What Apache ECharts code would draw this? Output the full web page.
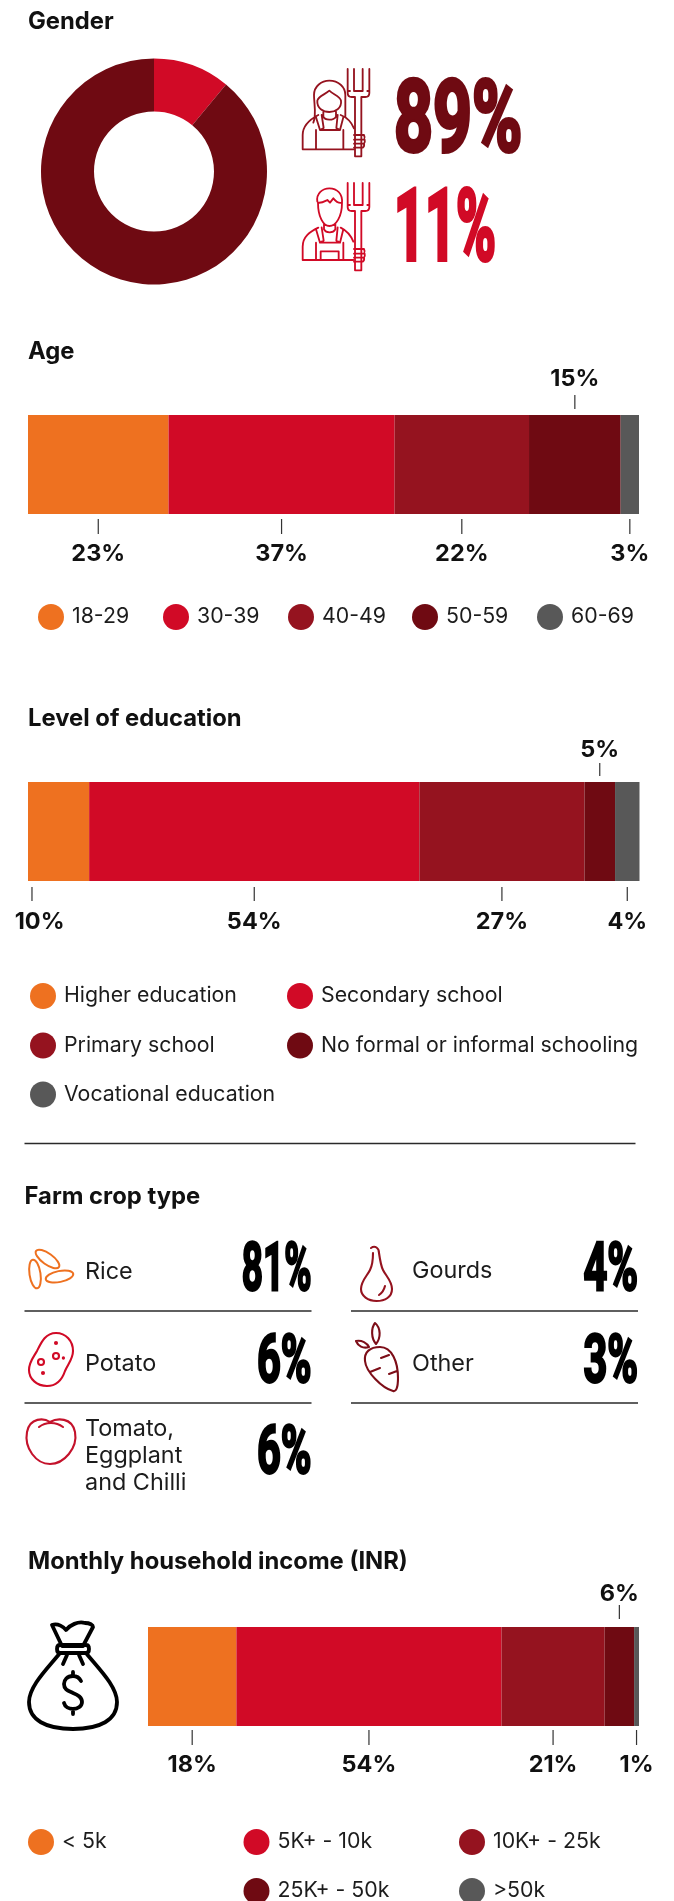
<!DOCTYPE html>
<html>
<head>
<meta charset="utf-8">
<title>Farmer profile</title>
<style>
html,body{margin:0;padding:0;background:#fff}
#chart{width:674px;height:1901px}
</style>
<script src="https://cdn.jsdelivr.net/npm/echarts@6/dist/echarts.min.js"></script>
</head>
<body>
<div id="chart"></div>
<script>
// Survey shares, in percent
const genderNames = ['Male', 'Female'];
const genderValues = [11, 89];

const ageNames = ['18-29', '30-39', '40-49', '50-59', '60-69'];
const ageValues = [23, 37, 22, 15, 3];

const eduNames = ['Higher education', 'Secondary school', 'Primary school', 'No formal or informal schooling', 'Vocational education'];
const eduValues = [10, 54, 27, 5, 4];

const incomeNames = ['< 5k', '5K+ - 10k', '10K+ - 25k', '25K+ - 50k', '>50k'];
const incomeValues = [18, 54, 21, 6, 1];

const cropNames = ['Rice', 'Potato', 'Tomato,\nEggplant\nand Chilli', 'Gourds', 'Other'];
const cropValues = [81, 6, 6, 4, 3];

const ORANGE = '#EE7120', RED = '#D10A26', MAROON = '#95131F', DARK = '#6F0A12', GREY = '#585858';
const PALETTE = [ORANGE, RED, MAROON, DARK, GREY];
const INK = '#111111';
const FONT = 'Inter, "Noto Sans", sans-serif';
const BIG_FONT = '"Liberation Sans Narrow", Roboto, sans-serif';

const sections = [
  {
    names: ageNames, values: ageValues, stack: 'age',
    left: 28, top: 415, width: 611, height: 99,
    below: [5, 20, 40], above: [-20, -6, -36],
    legend: [[38, 617], [163, 617], [288, 617], [412, 617], [537, 617]]
  },
  {
    names: eduNames, values: eduValues, stack: 'edu',
    left: 28, top: 782, width: 611.5, height: 99,
    below: [6, 20, 41], above: [-19, -6, -32],
    // the first callout sits near the left edge of the bar, not at its middle
    nudge: {0: {tick: -26.6, text: -19}},
    legend: [[30, 996], [287, 996], [30, 1045.5], [287, 1045.5], [30, 1094.5]]
  },
  {
    names: incomeNames, values: incomeValues, stack: 'income',
    left: 148, top: 1627, width: 491, height: 99,
    below: [4, 19, 39], above: [-22, -8, -33],
    legend: [[28, 1842], [243.5, 1842], [459, 1842], [243.5, 1891], [459, 1891]]
  }
];

const grid = [], xAxis = [], yAxis = [], series = [], legend = [];

sections.forEach(function (sec, gi) {
  grid.push({left: sec.left, top: sec.top, width: sec.width, height: sec.height, containLabel: false});
  xAxis.push({type: 'value', gridIndex: gi, min: 0, max: 100, show: false});
  yAxis.push({type: 'category', gridIndex: gi, data: [sec.stack], show: false});

  const mids = [];
  let running = 0;
  sec.names.forEach(function (name, i) {
    series.push({
      type: 'bar', name: name, stack: sec.stack, xAxisIndex: gi, yAxisIndex: gi,
      data: [sec.values[i]], barWidth: '100%', silent: true,
      itemStyle: {color: PALETTE[i]}
    });
    mids.push([running + sec.values[i] / 2, 0]);
    running += sec.values[i];
    legend.push({
      data: [name], left: sec.legend[i][0], top: sec.legend[i][1] - 13, padding: 0,
      itemWidth: 26, itemHeight: 26, icon: 'circle', selectedMode: false,
      textStyle: {fontFamily: FONT, fontSize: 21.3, color: '#1c1c1c', padding: [0, 0, 0, 3]}
    });
  });

  // Callout ticks and percentage labels; the fourth segment is labelled above the bar
  series.push({
    type: 'custom', name: sec.stack + '-callouts', xAxisIndex: gi, yAxisIndex: gi,
    data: mids, encode: {x: 0, y: 1}, clip: false, silent: true, z: 5,
    renderItem: function (params, api) {
      const i = params.dataIndex;
      const pt = api.coord([api.value(0), 0]);
      const half = api.size([0, 1])[1] / 2;
      const up = i === 3;
      const edge = pt[1] + (up ? -half : half);
      const off = up ? sec.above : sec.below;
      const nudge = (sec.nudge && sec.nudge[i]) || {tick: 0, text: 0};
      return {
        type: 'group',
        children: [
          {
            type: 'line',
            shape: {x1: pt[0] + nudge.tick, y1: edge + off[0], x2: pt[0] + nudge.tick, y2: edge + off[1]},
            style: {stroke: '#333333', lineWidth: 1.2}
          },
          {
            type: 'text', x: pt[0] + nudge.text, y: edge + off[2],
            style: {
              text: sec.values[i] + '%', textAlign: 'center', textVerticalAlign: 'middle',
              fontFamily: FONT, fontWeight: 700, fontSize: 23.5, fill: INK
            }
          }
        ]
      };
    }
  });
});

// Gender donut, 11% starts at twelve o'clock
series.push({
  type: 'pie', name: 'Gender', center: [154, 171.5], radius: [60, 113], startAngle: 90,
  silent: true, label: {show: false}, labelLine: {show: false},
  data: genderNames.map(function (n, i) {
    return {name: n, value: genderValues[i], itemStyle: {color: i === 0 ? RED : DARK}};
  })
});

function heading(text, x, y) {
  return {
    type: 'text', x: x, y: y, silent: true,
    style: {text: text, fontFamily: FONT, fontWeight: 700, fontSize: 23.8, fill: INK, textVerticalAlign: 'middle'}
  };
}
function body(text, x, y) {
  return {
    type: 'text', x: x, y: y, silent: true,
    style: {text: text, fontFamily: FONT, fontWeight: 400, fontSize: 23.4, lineHeight: 27, fill: '#1c1c1c', textVerticalAlign: 'middle'}
  };
}
function bigNumber(text, x, y, size, squeeze, color, align) {
  return {
    type: 'text', x: x, y: y, scaleX: squeeze, silent: true,
    style: {
      text: text, fontFamily: BIG_FONT, fontWeight: 700, fontSize: size, fill: color,
      stroke: color, lineWidth: size / 24,
      textAlign: align, textVerticalAlign: 'middle'
    }
  };
}
function rule(x1, x2, y) {
  return {type: 'line', silent: true, shape: {x1: x1, y1: y, x2: x2, y2: y}, style: {stroke: '#2a2a2a', lineWidth: 1.5}};
}
function icon(pathData, stroke, lineWidth, x, y, scale) {
  return {
    type: 'path', silent: true, x: x || 0, y: y || 0, scaleX: scale || 1, scaleY: scale || 1,
    shape: {pathData: pathData},
    style: {fill: 'none', stroke: stroke, lineWidth: lineWidth, lineCap: 'round', lineJoin: 'round'}
  };
}

// Line icons
const FORK_TOP = 'M173 0 V72 Q173 84 185 84 H195 V262 H214 V84 H226 Q238 84 238 72 V0 M192 0 V66 H218 V0 M173 66 H180 M232 66 H238';
const FORK_HAND = 'M192 198 H222 Q226 206 222 212 H192 M192 212 H224 Q226 220 222 224 H192 M192 224 H222 Q224 232 218 236 H192';
const WOMAN =
  'M70 188 C80 165 72 130 72 105 C72 78 95 62 118 62 C145 62 166 80 166 105 V170 ' +
  'M82 122 C85 108 105 104 118 92 C130 104 150 108 153 122 C156 145 135 156 118 156 C100 156 80 145 82 122 Z ' +
  'M100 155 V170 C105 182 130 182 138 170 V155 ' +
  'M38 268 V225 C38 195 60 178 85 165 M152 165 C170 172 185 188 192 205 M38 268 H192 ' +
  'M78 172 L90 210 L101 204 L95 165 M160 172 L150 210 L139 204 L143 165 M78 210 V268 M160 210 V268 M90 210 H150';
const MAN =
  'M82 425 C78 400 98 385 118 385 C142 385 158 402 156 428 M84 428 C95 430 104 424 112 420 L120 428 L130 415 C138 425 148 430 156 428 ' +
  'M84 428 C84 470 100 498 118 498 C138 498 156 470 156 428 ' +
  'M102 490 V508 C108 520 130 520 136 508 V490 ' +
  'M38 600 V560 C38 530 60 515 85 503 M152 503 C170 512 182 525 190 545 M38 600 H190 ' +
  'M78 508 L90 548 L101 542 L95 502 M160 508 L150 548 L139 542 L143 502 M78 548 V600 M160 548 V600 M90 548 H150 ' +
  'M92 600 V574 H146 V600';
const GOURD =
  'M371 1248 C375 1245 379 1248 379 1253 C380 1260 381 1266 383 1270 C386 1276 392 1281 392 1289 C392 1297 385 1301 376.5 1301 ' +
  'C368 1301 361 1296 361 1289 C361 1281 367 1276 370 1270 C372 1266 373 1260 373 1253 M379 1295 C382 1293 384 1290 385 1286';
const POTATO =
  'M56 1333 C66 1333 73 1341 73 1351 C73 1359 68 1364 65 1371 C62 1380 56 1386 47 1386 C37 1386 29 1379 29 1370 ' +
  'C29 1362 33 1358 37 1351 C41 1343 45 1333 56 1333 Z ' +
  'M57 1343 a1 1 0 1 0 -2 0 a1 1 0 1 0 2 0 M59 1356 a3 3 0 1 0 -6 0 a3 3 0 1 0 6 0 M64 1358 a.6 .6 0 1 0 -1.2 0 a.6 .6 0 1 0 1.2 0 ' +
  'M44 1362 a3 3 0 1 0 -6 0 a3 3 0 1 0 6 0 M44 1373 a1 1 0 1 0 -2 0 a1 1 0 1 0 2 0';
const TOMATO =
  'M50 1422 C44 1418 30 1417 27 1432 C24 1448 36 1464 50 1464 C64 1464 78 1448 75 1432 C72 1417 57 1418 50 1422 Z ' +
  'M39 1427 C44 1423 48 1423 51 1423 C55 1423 59 1424 63 1427';
const CARROT =
  'M375 1323 C381 1328 381 1338 376 1344 C371 1338 371 1328 375 1323 Z M356 1341 C362 1340 367 1343 369 1347 C363 1349 358 1346 356 1341 Z ' +
  'M380 1347 C370 1347 364 1352 365 1361 C366 1372 382 1388 393 1391 C396 1392 398 1388 398 1378 C398 1362 392 1347 380 1347 Z ' +
  'M370 1372 L380 1368 M389 1374 L397 1371 M381 1358 L389 1355';
const BAG =
  'M52 1625 C58 1623 64 1627 66 1630 C70 1625 78 1621 85 1623 C90 1623 93 1625 93 1627 L83 1646 H62 Z ' +
  'M60 1645 H86 Q89 1645 89 1649 Q89 1653 86 1653 H60 Q57 1653 57 1649 Q57 1645 60 1645 Z ' +
  'M60 1653 C48 1668 29 1686 29 1702 C29 1720 46 1729 73 1729 C100 1729 117 1720 117 1702 C117 1686 98 1668 86 1653 ' +
  'M67 1655 L63 1664 M79 1655 L83 1664 ' +
  'M81 1681 C79 1677 76 1676 73 1676 C67 1676 64 1680 64 1684 C64 1690 69 1691 73 1693 C78 1695 82 1697 82 1702 ' +
  'C82 1706 78 1709 73 1709 C69 1709 65 1707 64 1703 M73 1672 V1676 M73 1709 V1714';

function grain(cx, cy, rx, ry, rotation) {
  return {
    type: 'ellipse', silent: true, x: cx, y: cy, rotation: rotation,
    shape: {cx: 0, cy: 0, rx: rx, ry: ry},
    style: {fill: 'none', stroke: ORANGE, lineWidth: 2}
  };
}

// Icons are path elements, which live in a free-standing custom series
const iconEls = [
  icon(FORK_TOP, MAROON, 5.5, 290, 69, 1 / 3),
  icon(FORK_HAND, MAROON, 5.5, 290, 69, 1 / 3),
  icon(WOMAN, MAROON, 5.5, 290, 60, 1 / 3),
  icon(FORK_TOP, RED, 5.5, 290, 183, 1 / 3),
  icon(FORK_HAND, RED, 5.5, 290, 183, 1 / 3),
  icon(MAN, RED, 5.5, 290, 60, 1 / 3),
  grain(47.5, 1259, 14, 5.5, -0.62),
  grain(35, 1274, 5.5, 14.5, 0.15),
  grain(59.5, 1276.5, 14, 5.5, 0.2),
  icon(POTATO, RED, 2.1),
  icon(TOMATO, '#C4122B', 2.1),
  icon(GOURD, MAROON, 2.1),
  icon(CARROT, '#7D0E18', 2.1),
  icon(BAG, '#000000', 3.8)
];
series.push({
  type: 'custom', name: 'icons', coordinateSystem: 'none', data: [0], silent: true,
  renderItem: function () { return {type: 'group', children: iconEls}; }
});

const graphicEls = [
  heading('Gender', 28, 22),
  heading('Age', 28, 352),
  heading('Level of education', 28, 719),
  heading('Farm crop type', 24.5, 1197),
  heading('Monthly household income (INR)', 28, 1562),

  bigNumber(genderValues[1] + '%', 394, 125.5, 100, 0.68, DARK, 'left'),
  bigNumber(genderValues[0] + '%', 394, 235, 100, 0.54, RED, 'left'),

  rule(24.5, 635.5, 1143.5),
  rule(24.5, 311.5, 1311),
  rule(351, 638, 1311),
  rule(24.5, 311.5, 1403),
  rule(351, 638, 1403),

  body(cropNames[0], 85, 1272),
  body(cropNames[1], 85, 1364),
  body(cropNames[2], 85, 1456),
  body(cropNames[3], 412, 1271),
  body(cropNames[4], 412, 1364),

  bigNumber(cropValues[0] + '%', 311.5, 1273, 66, 0.56, '#000000', 'right'),
  bigNumber(cropValues[1] + '%', 311.5, 1365, 66, 0.63, '#000000', 'right'),
  bigNumber(cropValues[2] + '%', 311.5, 1456, 66, 0.63, '#000000', 'right'),
  bigNumber(cropValues[3] + '%', 638, 1273, 66, 0.63, '#000000', 'right'),
  bigNumber(cropValues[4] + '%', 638, 1365, 66, 0.63, '#000000', 'right')
];

const chart = echarts.init(document.getElementById('chart'), null, {renderer: 'canvas'});
chart.setOption({
  animation: false,
  backgroundColor: '#ffffff',
  tooltip: {show: false},
  grid: grid, xAxis: xAxis, yAxis: yAxis,
  legend: legend,
  series: series,
  graphic: {elements: graphicEls}
});
</script>
</body>
</html>
